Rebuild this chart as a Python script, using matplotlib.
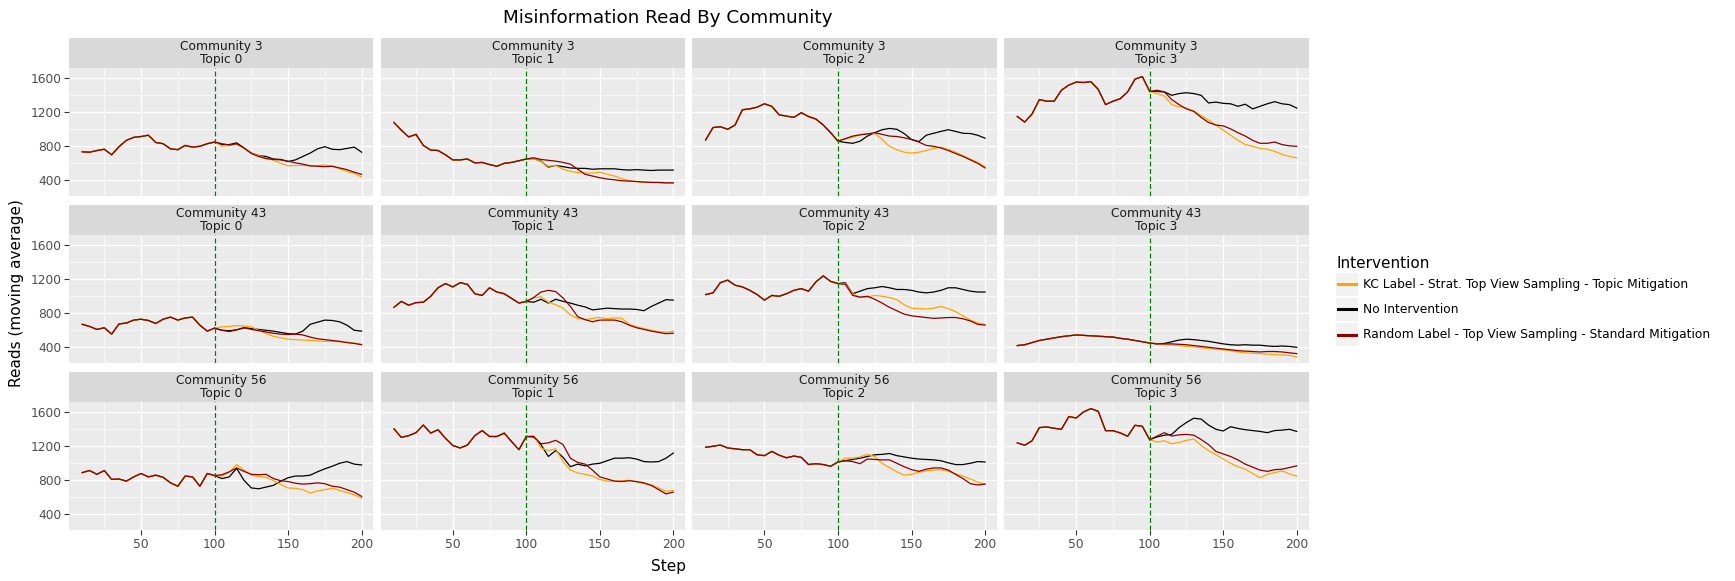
import matplotlib
matplotlib.use("Agg")
import matplotlib.pyplot as plt
from matplotlib.lines import Line2D
from matplotlib.patches import Rectangle
import numpy as np

# steps: shared history 10..100, then the three interventions 100..200
steps_pre = list(range(10, 101, 5))
steps_post = list(range(100, 201, 5))

communities = [3, 43, 56]
topics = [0, 1, 2, 3]
series_names = ['KC Label - Strat. Top View Sampling - Topic Mitigation',
                'No Intervention',
                'Random Label - Top View Sampling - Standard Mitigation']
series_colors = ['orange', 'black', 'darkred']

# Community 3
c3_t0_pre = [735, 730, 750, 765, 700, 795, 870, 905, 915, 930, 845, 830, 770, 760, 810, 790, 800, 830, 850]
c3_t0_kc = [850, 800, 810, 820, 780, 720, 690, 660, 635, 600, 570, 575, 575, 570, 570, 580, 565, 535, 505, 480, 440]
c3_t0_none = [850, 820, 820, 840, 780, 720, 690, 680, 650, 645, 620, 640, 680, 720, 770, 795, 765, 760, 775, 790, 730]
c3_t0_rand = [850, 830, 815, 830, 780, 715, 680, 655, 645, 640, 625, 605, 590, 570, 565, 560, 565, 545, 525, 495, 470]

c3_t1_pre = [1080, 990, 910, 940, 810, 755, 750, 700, 640, 640, 650, 605, 610, 585, 565, 600, 610, 630, 650]
c3_t1_kc = [650, 655, 620, 565, 575, 530, 505, 490, 485, 485, 495, 470, 450, 420, 395, 385, 375, 375, 370, 365, 365]
c3_t1_none = [650, 655, 625, 555, 575, 560, 545, 540, 540, 530, 535, 535, 535, 525, 520, 525, 520, 515, 520, 520, 520]
c3_t1_rand = [650, 665, 645, 635, 625, 610, 590, 530, 470, 450, 430, 415, 405, 395, 390, 385, 380, 375, 375, 370, 370]

c3_t2_pre = [875, 1020, 1030, 1000, 1050, 1230, 1240, 1260, 1300, 1270, 1170, 1155, 1140, 1195, 1150, 1120, 1050, 960, 860]
c3_t2_kc = [860, 890, 905, 935, 950, 950, 880, 800, 760, 730, 720, 730, 750, 775, 790, 765, 730, 690, 650, 610, 560]
c3_t2_none = [860, 845, 835, 860, 920, 960, 995, 1010, 1000, 950, 880, 855, 930, 953, 975, 995, 975, 953, 950, 930, 895]
c3_t2_rand = [860, 890, 920, 935, 945, 960, 940, 920, 915, 900, 880, 850, 810, 800, 780, 750, 715, 680, 640, 600, 545]

c3_t3_pre = [1150, 1085, 1180, 1350, 1330, 1330, 1460, 1520, 1555, 1550, 1560, 1470, 1290, 1330, 1360, 1440, 1590, 1620, 1445]
c3_t3_kc = [1445, 1420, 1390, 1290, 1265, 1250, 1215, 1160, 1110, 1050, 990, 930, 870, 820, 800, 775, 765, 740, 705, 680, 665]
c3_t3_none = [1445, 1445, 1440, 1400, 1420, 1430, 1420, 1400, 1310, 1320, 1305, 1300, 1270, 1295, 1240, 1270, 1300, 1325, 1300, 1290, 1250]
c3_t3_rand = [1445, 1460, 1440, 1350, 1290, 1240, 1210, 1140, 1080, 1050, 1040, 1005, 960, 920, 870, 835, 835, 850, 820, 805, 800]

# Community 43
c43_t0_pre = [670, 645, 610, 630, 555, 675, 685, 720, 730, 715, 680, 730, 755, 720, 745, 755, 660, 590, 625]
c43_t0_kc = [625, 640, 645, 655, 650, 640, 600, 560, 530, 510, 495, 490, 485, 480, 475, 470, 470, 465, 460, 450, 435]
c43_t0_none = [625, 600, 595, 605, 630, 620, 610, 600, 590, 575, 560, 555, 590, 670, 695, 720, 715, 700, 660, 600, 590]
c43_t0_rand = [625, 600, 585, 605, 630, 610, 595, 580, 565, 555, 550, 555, 545, 520, 500, 490, 480, 470, 455, 445, 430]

c43_t1_pre = [870, 940, 895, 925, 930, 1000, 1100, 1150, 1110, 1160, 1140, 1030, 1010, 1100, 1050, 1030, 975, 920, 940]
c43_t1_kc = [940, 980, 995, 930, 900, 860, 780, 740, 725, 740, 750, 735, 745, 740, 670, 640, 620, 600, 585, 575, 590]
c43_t1_none = [940, 930, 965, 920, 965, 940, 920, 895, 875, 840, 850, 860, 855, 850, 850, 845, 830, 880, 920, 960, 955]
c43_t1_rand = [940, 985, 1050, 1070, 1055, 980, 880, 760, 725, 700, 720, 720, 720, 700, 660, 630, 610, 590, 575, 560, 565]

c43_t2_pre = [1020, 1040, 1160, 1190, 1130, 1110, 1070, 1020, 955, 1010, 1000, 1030, 1070, 1090, 1060, 1170, 1240, 1175, 1150]
c43_t2_kc = [1150, 1150, 1030, 985, 990, 1010, 1000, 985, 960, 900, 860, 855, 850, 860, 880, 855, 820, 770, 720, 685, 670]
c43_t2_none = [1150, 1160, 1030, 1060, 1090, 1100, 1115, 1100, 1080, 1080, 1070, 1050, 1040, 1050, 1070, 1100, 1100, 1080, 1060, 1050, 1050]
c43_t2_rand = [1150, 1140, 1010, 990, 1000, 965, 920, 870, 830, 790, 770, 760, 750, 740, 745, 750, 750, 735, 710, 670, 660]

c43_t3_pre = [420, 430, 455, 480, 495, 510, 525, 535, 545, 540, 535, 530, 525, 520, 505, 495, 480, 465, 450]
c43_t3_kc = [450, 440, 430, 425, 420, 410, 405, 395, 385, 375, 370, 360, 345, 335, 330, 325, 320, 315, 310, 305, 285]
c43_t3_none = [450, 440, 445, 465, 485, 495, 490, 480, 470, 455, 440, 430, 425, 430, 425, 425, 415, 410, 415, 410, 400]
c43_t3_rand = [450, 440, 440, 440, 435, 430, 420, 410, 400, 390, 380, 370, 360, 355, 350, 345, 350, 350, 345, 335, 325]

# Community 56
c56_t0_pre = [890, 915, 870, 915, 810, 815, 790, 840, 880, 840, 860, 835, 770, 730, 850, 840, 730, 880, 855]
c56_t0_kc = [855, 850, 895, 985, 920, 860, 845, 835, 795, 750, 710, 705, 690, 650, 675, 690, 705, 680, 655, 630, 590]
c56_t0_none = [855, 820, 840, 940, 800, 710, 700, 720, 740, 790, 830, 850, 850, 860, 900, 935, 965, 1000, 1020, 990, 980]
c56_t0_rand = [855, 865, 900, 945, 905, 870, 865, 870, 820, 795, 785, 765, 755, 760, 770, 760, 730, 720, 690, 660, 610]

c56_t1_pre = [1405, 1305, 1325, 1360, 1450, 1355, 1395, 1295, 1210, 1180, 1215, 1325, 1385, 1315, 1315, 1355, 1255, 1160, 1315]
c56_t1_kc = [1315, 1325, 1180, 1150, 1170, 1020, 920, 885, 870, 850, 810, 790, 790, 795, 800, 780, 760, 745, 710, 670, 680]
c56_t1_none = [1315, 1310, 1220, 1080, 1150, 1070, 960, 990, 970, 990, 1000, 1030, 1060, 1060, 1065, 1050, 1020, 1015, 1020, 1060, 1120]
c56_t1_rand = [1315, 1315, 1230, 1240, 1270, 1220, 1060, 1010, 990, 920, 840, 815, 790, 785, 795, 785, 770, 740, 690, 640, 660]

c56_t2_pre = [1188, 1200, 1215, 1180, 1170, 1160, 1160, 1100, 1090, 1140, 1095, 1065, 1085, 1070, 985, 995, 985, 965, 1015]
c56_t2_kc = [1015, 1060, 1060, 1075, 1105, 1080, 1000, 950, 900, 860, 870, 895, 910, 920, 925, 905, 875, 850, 815, 780, 755]
c56_t2_none = [1015, 1030, 1045, 1060, 1080, 1100, 1105, 1115, 1090, 1075, 1060, 1050, 1045, 1040, 1030, 1005, 985, 985, 1000, 1020, 1015]
c56_t2_rand = [1015, 1030, 1020, 995, 1050, 1045, 1040, 1040, 1000, 960, 925, 905, 930, 945, 945, 920, 870, 820, 760, 745, 755]

c56_t3_pre = [1240, 1212, 1265, 1420, 1427, 1412, 1400, 1550, 1533, 1604, 1643, 1612, 1384, 1384, 1357, 1318, 1447, 1435, 1278]
c56_t3_kc = [1278, 1250, 1265, 1230, 1245, 1270, 1285, 1210, 1150, 1100, 1050, 1000, 960, 930, 880, 830, 870, 890, 910, 875, 850]
c56_t3_none = [1278, 1310, 1330, 1340, 1420, 1480, 1530, 1520, 1450, 1400, 1380, 1430, 1410, 1395, 1385, 1375, 1360, 1385, 1390, 1400, 1375]
c56_t3_rand = [1278, 1320, 1360, 1320, 1335, 1340, 1330, 1280, 1220, 1140, 1110, 1080, 1040, 990, 955, 920, 905, 925, 930, 950, 970]

panels = {
    (3, 0): (c3_t0_pre, c3_t0_kc, c3_t0_none, c3_t0_rand),
    (3, 1): (c3_t1_pre, c3_t1_kc, c3_t1_none, c3_t1_rand),
    (3, 2): (c3_t2_pre, c3_t2_kc, c3_t2_none, c3_t2_rand),
    (3, 3): (c3_t3_pre, c3_t3_kc, c3_t3_none, c3_t3_rand),
    (43, 0): (c43_t0_pre, c43_t0_kc, c43_t0_none, c43_t0_rand),
    (43, 1): (c43_t1_pre, c43_t1_kc, c43_t1_none, c43_t1_rand),
    (43, 2): (c43_t2_pre, c43_t2_kc, c43_t2_none, c43_t2_rand),
    (43, 3): (c43_t3_pre, c43_t3_kc, c43_t3_none, c43_t3_rand),
    (56, 0): (c56_t0_pre, c56_t0_kc, c56_t0_none, c56_t0_rand),
    (56, 1): (c56_t1_pre, c56_t1_kc, c56_t1_none, c56_t1_rand),
    (56, 2): (c56_t2_pre, c56_t2_kc, c56_t2_none, c56_t2_rand),
    (56, 3): (c56_t3_pre, c56_t3_kc, c56_t3_none, c56_t3_rand),
}

W, H = 1735, 581
fig = plt.figure(figsize=(W / 100, H / 100), dpi=100)

# panel geometry in pixels
pan_left0, pan_stride, pan_w = 69, 311.7, 304.4
pan_top0, row_stride, pan_h, strip_h = 68, 167, 128, 30

for r, comm in enumerate(communities):
    for c, top in enumerate(topics):
        x0 = pan_left0 + c * pan_stride
        y0 = pan_top0 + r * row_stride
        ax = fig.add_axes([x0 / W, 1 - (y0 + pan_h) / H, pan_w / W, pan_h / H])
        ax.set_facecolor('#EBEBEB')
        for s in ax.spines.values():
            s.set_visible(False)
        ax.set_xlim(1, 208)
        ax.set_ylim(215, 1721)
        ax.set_xticks([50, 100, 150, 200])
        ax.set_xticks([25, 75, 125, 175], minor=True)
        ax.set_yticks([400, 800, 1200, 1600])
        ax.set_yticks([600, 1000, 1400], minor=True)
        ax.grid(which='major', color='white', lw=1.0)
        ax.grid(which='minor', color='white', lw=0.5)
        ax.set_axisbelow(True)
        ax.tick_params(which='minor', length=0)
        ax.tick_params(which='major', length=3.5, width=0.8, color='#333333',
                       labelsize=8.8, labelcolor='#4D4D4D', pad=2)
        if c != 0:
            ax.tick_params(axis='y', left=False, labelleft=False)
        if r != len(communities) - 1:
            ax.tick_params(axis='x', bottom=False, labelbottom=False)

        pre, kc, none, rand = panels[(comm, top)]
        ax.plot(steps_post, none, color='black', lw=0.9)
        ax.plot(steps_post, kc, color='orange', lw=0.9)
        ax.plot(steps_post, rand, color='darkred', lw=0.9)
        for col in ['black', 'orange', 'darkred']:
            ax.plot(steps_pre, pre, color=col, lw=0.9)
        ax.axvline(100, color='green', lw=0.9, linestyle=(0, (4, 2)))

        sax = fig.add_axes([x0 / W, 1 - y0 / H, pan_w / W, strip_h / H])
        sax.set_facecolor('#D9D9D9')
        sax.set_xticks([])
        sax.set_yticks([])
        for s in sax.spines.values():
            s.set_visible(False)
        sax.text(0.5, 0.5, f'Community {comm}\nTopic {top}', ha='center', va='center',
                 fontsize=8.8, color='#1A1A1A', linespacing=1.0, transform=sax.transAxes)

fig.text(668 / W, 1 - 18 / H, 'Misinformation Read By Community', ha='center', va='center',
         fontsize=13.2)
fig.text(668 / W, 1 - 566 / H, 'Step', ha='center', va='center', fontsize=11)
fig.text(16 / W, 1 - 293 / H, 'Reads (moving average)', ha='center', va='center',
         rotation=90, fontsize=11)

# legend
fig.text(1336 / W, 1 - 263 / H, 'Intervention', ha='left', va='center', fontsize=11)
for i, (name, col) in enumerate(zip(series_names, series_colors)):
    yc = 284.5 + i * 25
    fig.patches.append(Rectangle((1336 / W, 1 - (yc + 11.5) / H), 22 / W, 23 / H,
                                 transform=fig.transFigure, facecolor='#F2F2F2',
                                 edgecolor='none'))
    fig.lines.append(Line2D([1338 / W, 1356 / W], [1 - yc / H, 1 - yc / H],
                            transform=fig.transFigure, color=col, lw=2.2))
    fig.text(1363 / W, 1 - yc / H, name, ha='left', va='center', fontsize=8.8)

fig.savefig('out.png', dpi=100)
